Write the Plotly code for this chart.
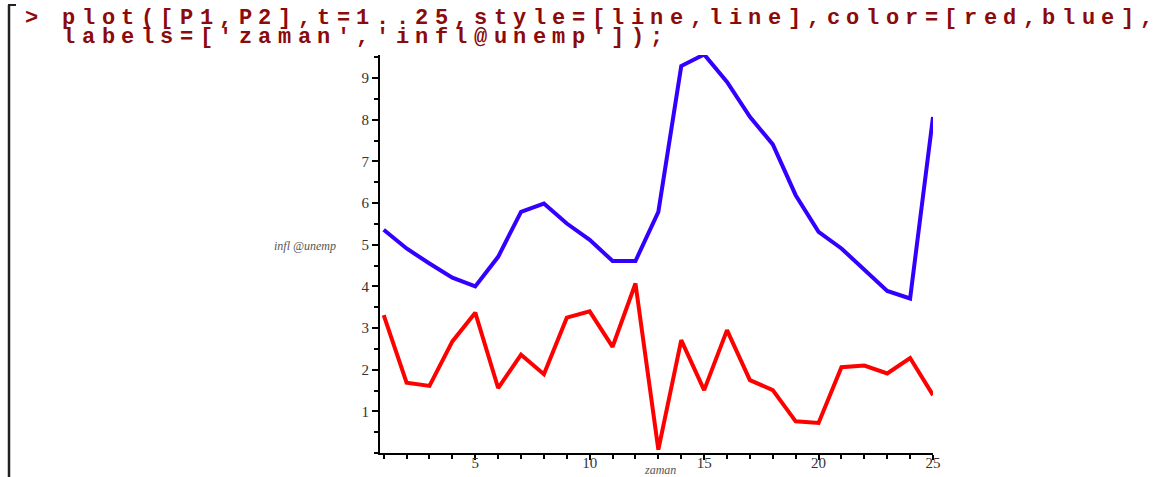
import plotly.graph_objects as go

# ---- data ----
t_values = list(range(1, 26))
p1_red = [3.31, 1.69, 1.61, 2.68, 3.37, 1.56, 2.36, 1.89, 3.25, 3.40, 2.55, 4.07, 0.08,
          2.71, 1.51, 2.95, 1.75, 1.51, 0.76, 0.72, 2.06, 2.10, 1.91, 2.28, 1.39]
p2_blue = [5.36, 4.91, 4.55, 4.21, 4.00, 4.71, 5.79, 5.99, 5.51, 5.12, 4.61, 4.61, 5.79,
           9.29, 9.57, 8.91, 8.07, 7.41, 6.19, 5.31, 4.91, 4.40, 3.89, 3.71, 8.07]
x_tick_vals = [5, 10, 15, 20, 25]
y_tick_vals = [1, 2, 3, 4, 5, 6, 7, 8, 9]
x_label = "zaman"
y_label = "infl @unemp"
cmd_line1 = "plot([P1,P2],t=1..25,style=[line,line],color=[red,blue],"
cmd_line2 = "labels=['zaman','infl@unemp']);"
prompt = ">"

# ---- layout geometry ----
W, H = 1163, 477
L, R, T, B = 380, 230, 55, 24
PW, PH = W - L - R, H - T - B


def px(x):
    return (x - L) / PW


def py(y):
    return 1 - (y - T) / PH


fig = go.Figure()
fig.add_trace(go.Scatter(x=t_values, y=p1_red, mode="lines",
                         line=dict(color="#ff0000", width=4), cliponaxis=False,
                         showlegend=False, hoverinfo="skip"))
fig.add_trace(go.Scatter(x=t_values, y=p2_blue, mode="lines",
                         line=dict(color="#3300ff", width=4), cliponaxis=False,
                         showlegend=False, hoverinfo="skip"))

annotations = []
# command text, monospaced & stretched: one glyph per cell
CH = 19.6
MAROON = "#8b0a0a"
mono = dict(family="Liberation Mono, Courier New, monospace", size=22, color=MAROON)
for line_text, yc in ((cmd_line1, 18.5), (cmd_line2, 37.5)):
    for i, ch in enumerate(line_text):
        if ch == " ":
            continue
        annotations.append(dict(text="<b>%s</b>" % ch, x=px(59 + i * CH + CH / 2), y=py(yc),
                                xref="paper", yref="paper", showarrow=False,
                                xanchor="center", yanchor="middle", font=mono, borderpad=0))
annotations.append(dict(text="<b>%s</b>" % prompt, x=px(31), y=py(18.5), xref="paper", yref="paper",
                        showarrow=False, xanchor="center", yanchor="middle", font=mono, borderpad=0))

label_font = dict(family="Liberation Serif, Times New Roman, serif", size=12, color="#555555")
annotations.append(dict(text="<i>%s</i>" % y_label, x=px(305), y=py(246), xref="paper", yref="paper",
                        showarrow=False, xanchor="center", yanchor="middle", font=label_font))
annotations.append(dict(text="<i>%s</i>" % x_label, x=px(660), y=py(470), xref="paper", yref="paper",
                        showarrow=False, xanchor="center", yanchor="middle", font=label_font))

shapes = [
    dict(type="line", xref="paper", yref="paper", x0=px(9), x1=px(9), y0=py(5), y1=py(480),
         line=dict(color="#222222", width=2.5)),
    dict(type="line", xref="paper", yref="paper", x0=px(8), x1=px(16), y0=py(5), y1=py(5),
         line=dict(color="#222222", width=2)),
]

tick_font = dict(family="Liberation Serif, Times New Roman, serif", size=15, color="#333333")
fig.update_layout(
    width=W, height=H,
    margin=dict(l=L, r=R, t=T, b=B, pad=0, autoexpand=False),
    paper_bgcolor="white", plot_bgcolor="white",
    annotations=annotations, shapes=shapes,
    xaxis=dict(range=[0.838, 25], showgrid=False, zeroline=False, showline=True, automargin=False,
               linecolor="black", linewidth=2, tickmode="array", tickvals=x_tick_vals,
               ticks="outside", ticklen=5, tickwidth=2, tickcolor="black",
               ticklabelstandoff=-10,
               minor=dict(dtick=1, tick0=0, ticks="outside", ticklen=4, tickwidth=2,
                          tickcolor="black", showgrid=False),
               tickfont=tick_font),
    yaxis=dict(range=[0, 9.556], showgrid=False, zeroline=False, showline=True, automargin=False,
               linecolor="black", linewidth=2, tickmode="array", tickvals=y_tick_vals,
               ticks="outside", ticklen=6, tickwidth=2, tickcolor="black",
               minor=dict(dtick=0.5, tick0=0, ticks="outside", ticklen=4, tickwidth=2,
                          tickcolor="black", showgrid=False),
               tickfont=tick_font),
)

fig.write_html("out.html", config={"displayModeBar": False},
               post_script="document.body.style.margin='0';document.body.style.overflow='hidden';")
